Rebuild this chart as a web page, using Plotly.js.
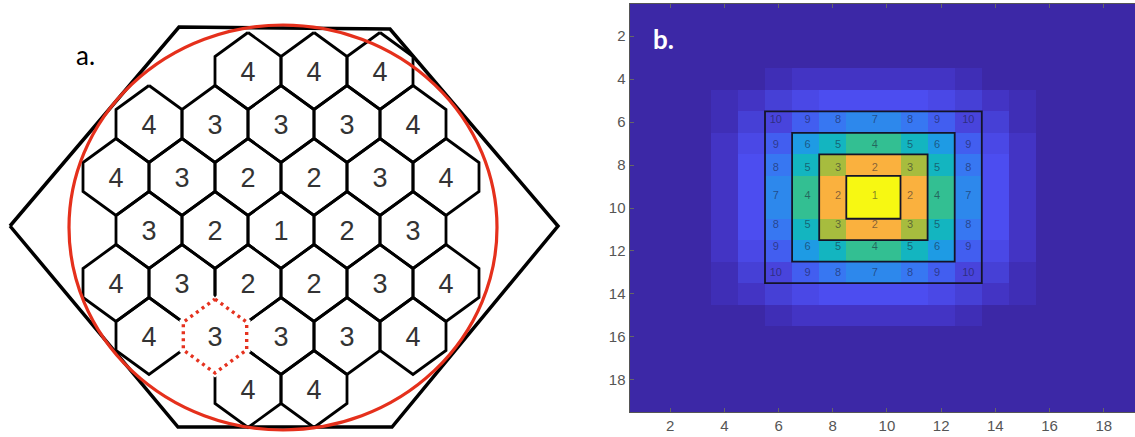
<!DOCTYPE html>
<html><head><meta charset="utf-8">
<script src="https://cdn.plot.ly/plotly-3.0.1.min.js"></script>
<style>html,body{margin:0;padding:0;overflow:hidden;background:#fff}#chart{width:1150px;height:437px}</style>
</head><body><div id="chart"></div>
<script>
// ---------- Panel a: hexagonal cell layout (rank labels per row) ----------
const hexRowLabels = [
  [null, null, 4, 4, 4, null],
  [4, 3, 3, 3, 4],
  [4, 3, 2, 2, 3, 4],
  [3, 2, 1, 2, 3],
  [4, 3, 2, 2, 3, 4],
  [4, 3, 3, 3, 4],
  [null, null, 4, 4, null, null]
];
const markedCell = [5, 1]; // [row, column] of the dotted red cell

// ---------- Panel b: heatmap levels (19 x 19) ----------
const levelColors = [
  '#3c28a6', '#3f2eb6', '#4334c4', '#4640d6', '#4844dc', '#4a48e6', '#4c4df0', '#425ef0',
  '#3777f2', '#2d88ec', '#1e9be4', '#13b5c0', '#33bf92', '#a7bc3e', '#fab13e', '#f7f812'
];
const zLevels = [
  [0,0,0,0,0,0,0,0,0,0,0,0,0,0,0,0,0,0,0],
  [0,0,0,0,0,0,0,0,0,0,0,0,0,0,0,0,0,0,0],
  [0,0,0,0,0,0,0,0,0,0,0,0,0,0,0,0,0,0,0],
  [0,0,0,0,0,1,2,2,2,2,2,2,1,0,0,0,0,0,0],
  [0,0,0,1,2,3,5,6,6,6,6,5,3,2,1,0,0,0,0],
  [0,0,0,1,3,4,7,8,9,9,8,7,4,3,1,0,0,0,0],
  [0,0,0,2,5,7,10,11,12,12,11,10,7,5,2,0,0,0,0],
  [0,0,0,2,6,8,11,13,14,14,13,11,8,6,2,0,0,0,0],
  [0,0,0,2,6,9,12,14,15,15,14,12,9,6,2,0,0,0,0],
  [0,0,0,2,6,9,12,14,15,15,14,12,9,6,2,0,0,0,0],
  [0,0,0,2,6,8,11,13,14,14,13,11,8,6,2,0,0,0,0],
  [0,0,0,2,5,7,10,11,12,12,11,10,7,5,2,0,0,0,0],
  [0,0,0,1,3,4,7,8,9,9,8,7,4,3,1,0,0,0,0],
  [0,0,0,1,2,3,5,6,6,6,6,5,3,2,1,0,0,0,0],
  [0,0,0,0,0,1,2,2,2,2,2,2,1,0,0,0,0,0,0],
  [0,0,0,0,0,0,0,0,0,0,0,0,0,0,0,0,0,0,0],
  [0,0,0,0,0,0,0,0,0,0,0,0,0,0,0,0,0,0,0],
  [0,0,0,0,0,0,0,0,0,0,0,0,0,0,0,0,0,0,0],
  [0,0,0,0,0,0,0,0,0,0,0,0,0,0,0,0,0,0,0]
];
const gridIndex = [1,2,3,4,5,6,7,8,9,10,11,12,13,14,15,16,17,18,19];
const ringLabels = [
  [10, 9, 8, 7, 8, 9, 10],
  [9, 6, 5, 4, 5, 6, 9],
  [8, 5, 3, 2, 3, 5, 8],
  [7, 4, 2, 1, 2, 4, 7],
  [8, 5, 3, 2, 3, 5, 8],
  [9, 6, 5, 4, 5, 6, 9],
  [10, 9, 8, 7, 8, 9, 10]
];
const ringLabelX = [5.9, 7.07, 8.2, 9.55, 10.85, 11.85, 13.0];
const ringLabelY = [5.9, 7.08, 8.15, 9.45, 10.8, 11.82, 13.02];
const boxHalfWidths = [1, 2, 3, 4];
const tickVals = [2, 4, 6, 8, 10, 12, 14, 16, 18];

// ---------- geometry / style constants ----------
const W = 1150, H = 437;
const HEX = {pitchX: 66, pitchY: 53, x0Even: 116, x0Odd: 149, y0: 71, hw: 33, hs: 14.5, ph: 38.5};

function hexCenter(r, c) {
  const x0 = (r % 2 === 0) ? HEX.x0Even : HEX.x0Odd;
  return [x0 + c * HEX.pitchX, HEX.y0 + r * HEX.pitchY];
}
function hexPath(cx, cy, s) {
  s = s || 1;
  const hw = HEX.hw * s, hs = HEX.hs * s, ph = HEX.ph * s;
  return {
    x: [cx, cx + hw, cx + hw, cx, cx - hw, cx - hw, cx],
    y: [cy - ph, cy - hs, cy + hs, cy + ph, cy + hs, cy - hs, cy - ph]
  };
}

const hexX = [], hexY = [], txtX = [], txtY = [], txtT = [];
hexRowLabels.forEach((row, r) => {
  row.forEach((v, c) => {
    if (v === null) return;
    const [cx, cy] = hexCenter(r, c);
    const p = hexPath(cx, cy);
    hexX.push(...p.x, null); hexY.push(...p.y, null);
    txtX.push(cx); txtY.push(cy + 3); txtT.push(String(v));
  });
});
const [mcx, mcy] = hexCenter(markedCell[0], markedCell[1]);
const mPath = hexPath(mcx, mcy, 0.96);

const outerHex = {x: [10, 179, 390, 558, 392, 178, 10], y: [226, 27, 29, 226, 427, 427, 226]};

const traces = [
  {type: 'scatter', mode: 'lines', x: outerHex.x, y: outerHex.y, xaxis: 'x', yaxis: 'y',
   line: {color: '#000', width: 3.5}, hoverinfo: 'skip', showlegend: false},
  {type: 'scatter', mode: 'lines', x: hexX, y: hexY, xaxis: 'x', yaxis: 'y',
   line: {color: '#000', width: 2.8}, connectgaps: false, hoverinfo: 'skip', showlegend: false},
  {type: 'scatter', mode: 'lines', x: hexPath(mcx, mcy).x, y: hexPath(mcx, mcy).y, xaxis: 'x', yaxis: 'y',
   line: {color: '#fff', width: 5}, hoverinfo: 'skip', showlegend: false},
  {type: 'scatter', mode: 'lines', x: mPath.x, y: mPath.y, xaxis: 'x', yaxis: 'y',
   line: {color: '#e5321f', width: 3.4, dash: '3px,4px'}, hoverinfo: 'skip', showlegend: false},
  {type: 'scatter', mode: 'text', x: txtX, y: txtY, text: txtT, xaxis: 'x', yaxis: 'y',
   textfont: {family: 'Liberation Sans, Arial, sans-serif', size: 27, color: '#333'},
   textposition: 'middle center', hoverinfo: 'skip', showlegend: false},
  // heatmap
  {type: 'heatmap', x: gridIndex, y: gridIndex, z: zLevels, xaxis: 'x2', yaxis: 'y2',
   zmin: 0, zmax: levelColors.length - 1, zsmooth: false, showscale: false, hoverinfo: 'skip',
   colorscale: levelColors.map((c, i) => [i / (levelColors.length - 1), c])}
];

// ring labels on heatmap
const rlX = [], rlY = [], rlT = [];
ringLabels.forEach((row, i) => row.forEach((v, j) => {
  rlX.push(ringLabelX[j]); rlY.push(ringLabelY[i]); rlT.push(String(v));
}));
traces.push({type: 'scatter', mode: 'text', x: rlX, y: rlY, text: rlT, xaxis: 'x2', yaxis: 'y2',
  textfont: {family: 'Liberation Sans, Arial, sans-serif', size: 11, color: 'rgba(25,25,50,0.55)'},
  hoverinfo: 'skip', showlegend: false});

const shapes = [
  {type: 'circle', xref: 'x', yref: 'y', x0: 69, x1: 497, y0: 25, y1: 430,
   line: {color: '#e5301c', width: 3.2}}
];
boxHalfWidths.forEach(h => shapes.push({type: 'rect', xref: 'x2', yref: 'y2',
  x0: 9.5 - h, x1: 9.5 + h, y0: 9.5 - h, y1: 9.5 + h, line: {color: '#141428', width: 1.8}}));

const axFont = {family: 'Liberation Sans, Arial, sans-serif', size: 15, color: '#555'};
const layout = {
  width: W, height: H, margin: {l: 0, r: 0, t: 0, b: 0},
  paper_bgcolor: '#fff', plot_bgcolor: '#fff', showlegend: false,
  xaxis: {domain: [0, 600 / W], range: [0, 600], visible: false, fixedrange: true},
  yaxis: {domain: [0, 1], range: [H, 0], visible: false, fixedrange: true},
  xaxis2: {domain: [629.5 / W, 1144.4 / W], range: [0.5, 19.5], anchor: 'y2',
    tickmode: 'array', tickvals: tickVals, ticks: 'inside', ticklen: 4, tickcolor: '#666',
    showline: true, mirror: 'ticks', linecolor: '#555', linewidth: 1,
    showgrid: false, zeroline: false, tickfont: axFont},
  yaxis2: {domain: [(H - 412) / H, (H - 4) / H], range: [19.5, 0.5], anchor: 'x2',
    tickmode: 'array', tickvals: tickVals, ticks: 'inside', ticklen: 4, tickcolor: '#666',
    showline: true, mirror: 'ticks', linecolor: '#555', linewidth: 1,
    showgrid: false, zeroline: false, tickfont: axFont},
  shapes: shapes,
  annotations: [
    {text: 'a.', xref: 'paper', yref: 'paper', x: 74 / W, y: 1 - 55 / H, xanchor: 'left', yanchor: 'middle',
     showarrow: false, font: {family: 'Lato, sans-serif', size: 26, color: '#000'}},
    {text: '<b>b.</b>', xref: 'paper', yref: 'paper', x: 651 / W, y: 1 - 39 / H, xanchor: 'left', yanchor: 'middle',
     showarrow: false, font: {family: 'Lato, sans-serif', size: 26, color: '#fff'}}
  ]
};
Plotly.newPlot('chart', traces, layout, {staticPlot: true, displayModeBar: false});
</script></body></html>
